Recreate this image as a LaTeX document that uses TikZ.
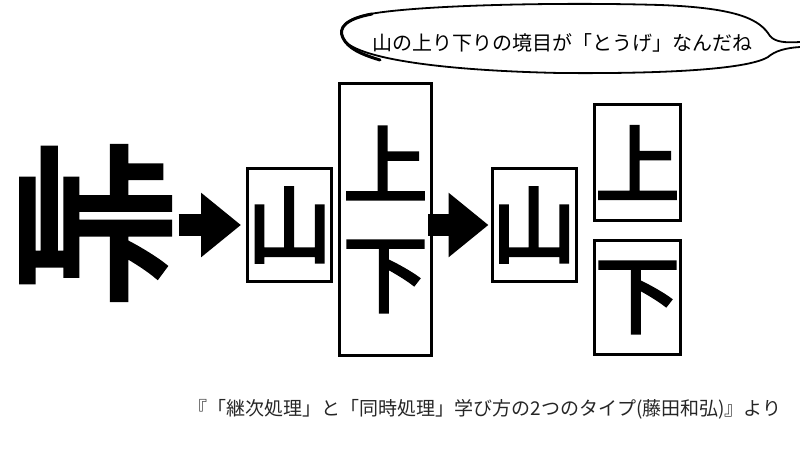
\documentclass[tikz,border=0pt]{standalone}
\usepackage{fontspec}
\newfontfamily\jp{Noto Sans CJK JP}
\newfontfamily\jpb[FakeBold=4]{Noto Sans CJK JP}
\usetikzlibrary{arrows.meta}

\tikzset{
    kanji/.style={font=\jpb\fontsize{84}{109}\selectfont, align=center},
    kbox/.style={draw, line width=3pt, inner sep=0pt},
    bigarrow/.style={line width=22pt, -{Triangle[length=40pt, width=62pt]}}
}

\begin{document}
\begin{tikzpicture}[x=1pt, y=-1pt]
    \useasboundingbox (0,0) rectangle (800,450);

    % the big kanji
    \node[font=\jpb\fontsize{165}{165}\selectfont, inner sep=0pt] (toge) at (93,223) {峠};

    % first split
    \node[kbox, kanji, minimum width=82pt, minimum height=113pt] (yama) at (289.5,225) {山};
    \node[kbox, kanji, minimum width=92pt, minimum height=272pt] (joge) at (385.5,219.5) {上\\下};

    % second split
    \node[kbox, kanji, minimum width=83pt, minimum height=113pt] (yamab) at (534,225) {山};
    \node[kbox, kanji, minimum width=86pt, minimum height=116pt] (ue) at (637.5,162.5) {上};
    \node[kbox, kanji, minimum width=86pt, minimum height=114pt] (shita) at (637.5,297.5) {下};

    \draw[bigarrow, shorten <=3pt, shorten >=5pt] (toge.east |- yama.west) -- (yama.west);
    \draw[bigarrow, shorten <=-5pt, shorten >=2pt] (joge.east |- yamab.west) -- (yamab.west);

    % speech bubble
    \draw[line width=1.8pt, line join=round]
        (800,42) .. controls (785,43) and (775,42) .. (770,36)
        .. controls (760,20) and (740,8) .. (660,5)
        .. controls (560,2) and (420,5) .. (370,14)
        .. controls (345,19) and (338,28) .. (343,38)
        .. controls (350,55) and (420,70) .. (560,73)
        .. controls (680,74) and (750,68) .. (768,57)
        .. controls (775,51) and (785,48) .. (800,47);
    \draw[line width=3pt, line cap=round]
        (372,14) .. controls (345,19) and (338,28) .. (343,38)
        .. controls (348,48) and (360,54) .. (380,60);
    \node[font=\jp\fontsize{20}{20}\selectfont] (speech) at (562,43)
        {山の上り下りの境目が「とうげ」なんだね};

    \node[font=\jp\fontsize{19}{19}\selectfont, text=black!85] (source) at (485,409)
        {『「継次処理」と「同時処理」学び方の2つのタイプ(藤田和弘)』より};
\end{tikzpicture}
\end{document}
